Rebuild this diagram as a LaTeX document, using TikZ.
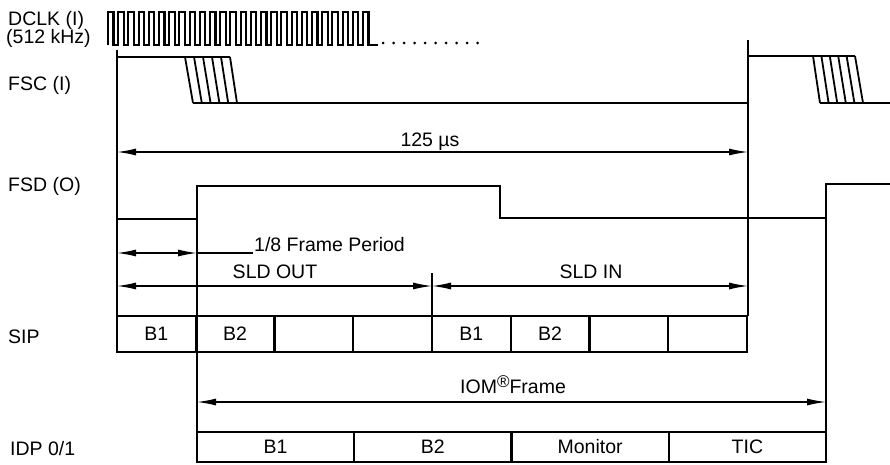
\documentclass[tikz,border=0pt]{standalone}
\usepackage{fontspec}
\setmainfont{Liberation Sans}
\usetikzlibrary{arrows.meta}
\begin{document}
\begin{tikzpicture}[x=1pt,y=-1pt,
  sig/.style={line width=2.8pt,line join=miter},
  clk/.style={line width=2.1pt},
  hatch/.style={line width=1.8pt},
  ref/.style={line width=1.3pt},
  dim/.style={line width=1.3pt},
  dimarr/.style={dim,{Latex[length=19pt,width=7pt]}-{Latex[length=19pt,width=7pt]}},
  lbl/.style={font=\fontsize{19.5}{19.5}\selectfont,inner sep=0pt,anchor=base west},
  txt/.style={font=\fontsize{19.5}{19.5}\selectfont,inner sep=0pt,anchor=base},
  sipbox/.style={draw,line width=2.2pt,minimum width=78.75pt,minimum height=36pt,inner sep=0pt,font=\fontsize{19.5}{19.5}\selectfont},
  idpbox/.style={draw,line width=2.2pt,minimum width=157.25pt,minimum height=30pt,inner sep=0pt,font=\fontsize{19.5}{19.5}\selectfont}]
\useasboundingbox (0,0) rectangle (890,464);

% left labels
\node[lbl] (dclk) at (8,25) {DCLK (I)};
\node[lbl] (khz) at (6,43) {(512 kHz)};
\node[lbl] (fsc) at (8,90) {FSC (I)};
\node[lbl] (fsd) at (8,191) {FSD (O)};
\node[lbl] (sip) at (8,343) {SIP};
\node[lbl] (idp) at (10,455) {IDP 0/1};

% clock
\draw[clk] (108,45) \foreach \i in {0,...,25} { -- ({108+10.2*\i},12) -- ({113.5+10.2*\i},12) -- ({113.5+10.2*\i},45) -- ({118.2+10.2*\i},45) } -- (378,45);
\foreach \i in {0,...,9} \fill ({383+10.5*\i},43) circle (1.5);

% FSC
\draw[sig] (117,57) -- (230,57);
\foreach \i in {0,...,5} \draw[hatch] ({185+9*\i},57) -- ({193+8.8*\i},103);
\draw[sig] (193,103) -- (748,103) -- (748,56) -- (855,56);
\foreach \i in {0,...,5} \draw[hatch] ({813+8.4*\i},56) -- ({820+8.6*\i},103);
\draw[sig] (820,103) -- (890,103);

% reference verticals
\draw[ref] (117,50) -- (117,316);
\draw[ref] (748,40) -- (748,316);
\draw[ref] (197,219) -- (197,432);
\draw[ref] (826,218) -- (826,432);
\draw[ref] (432,273) -- (432,316);

% FSD
\draw[sig] (117,219) -- (197,219) -- (197,186) -- (500,186) -- (500,218) -- (826,218) -- (826,184) -- (890,184);

% 125 us
\coordinate (a0) at (117,152);
\coordinate (a1) at (748,152);
\draw[dimarr] (a0) -- (a1);
\node[txt] (t125) at (430,146) {125 µs};

% 1/8 frame period
\coordinate (b0) at (117,253);
\coordinate (b1) at (197,253);
\coordinate (b2) at (253,253);
\draw[dimarr] (b0) -- (b1);
\draw[dim] (b1) -- (b2);
\node[lbl] (t18) at (254,251) {1/8 Frame Period};

% SLD OUT / IN
\coordinate (c0) at (117,286);
\coordinate (c1) at (432,286);
\coordinate (c2) at (748,286);
\draw[dimarr] (c0) -- (c1);
\draw[dimarr] (c1) -- (c2);
\node[txt] (tout) at (275,278) {SLD OUT};
\node[txt] (tin) at (591,278) {SLD IN};

% SIP boxes
\foreach \i/\t in {0/B1,1/B2,2/,3/,4/B1,5/B2,6/,7/}
  \node[sipbox] (sip\i) at ({117+78.75*(\i+0.5)},334) {\t};

% IOM frame
\coordinate (d0) at (197,402);
\coordinate (d1) at (826,402);
\draw[dimarr] (d0) -- (d1);
\node[lbl] (tiom) at (460,393) {IOM\raisebox{0.5ex}{\fontsize{17}{17}\selectfont ®}Frame};

% IDP boxes
\foreach \i/\t in {0/B1,1/B2,2/Monitor,3/TIC}
  \node[idpbox] (idp\i) at ({197+157.25*(\i+0.5)},447) {\t};
\end{tikzpicture}
\end{document}
